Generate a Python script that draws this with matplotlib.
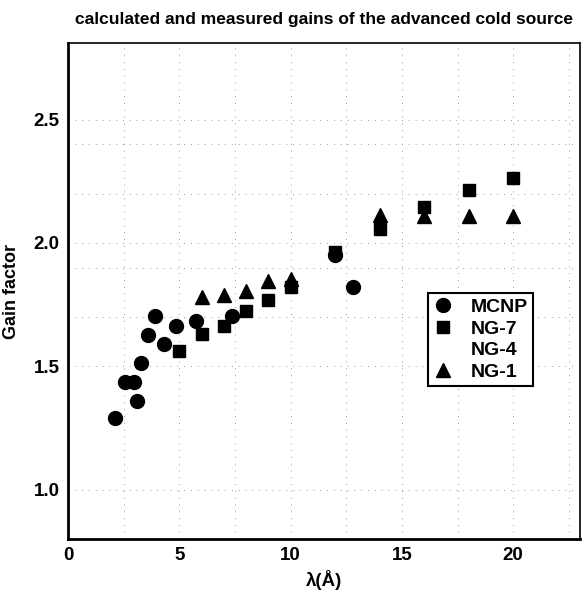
import numpy as np
import matplotlib.pyplot as plt

plt.rcParams['font.family'] = ['Liberation Sans', 'DejaVu Sans']
plt.rcParams['font.weight'] = 'bold'

# MCNP calculation
mcnp_x = [2.1, 2.55, 2.95, 3.1, 3.3, 3.6, 3.9, 4.3, 4.85, 5.75, 7.35, 12.0, 12.8]
mcnp_y = [1.29, 1.435, 1.435, 1.36, 1.515, 1.625, 1.705, 1.59, 1.665, 1.685, 1.705, 1.95, 1.82]

# measured
ng7_x = [5, 6, 7, 8, 9, 10, 12, 14, 16, 18, 20]
ng7_y = [1.56, 1.63, 1.665, 1.725, 1.77, 1.82, 1.965, 2.055, 2.145, 2.215, 2.265]

ng4_x = []
ng4_y = []

ng1_x = [6, 7, 8, 9, 10, 14, 16, 18, 20]
ng1_y = [1.78, 1.79, 1.805, 1.845, 1.855, 2.115, 2.11, 2.11, 2.11]

fig = plt.figure(figsize=(5.85, 5.91), dpi=100)
ax = fig.add_axes([0.1162, 0.088, 0.8753, 0.8392])

ax.plot(mcnp_x, mcnp_y, 'o', color='black', markersize=10, label='MCNP')
ax.plot(ng7_x, ng7_y, 's', color='black', markersize=8.5, label='NG-7')
ax.plot(ng4_x, ng4_y, linestyle='none', marker='none', label='NG-4')
ax.plot(ng1_x, ng1_y, '^', color='black', markersize=10, label='NG-1')

ax.set_xlim(0, 23)
ax.set_ylim(0.8, 2.81)
ax.set_xticks([0, 5, 10, 15, 20])
ax.set_yticks([1.0, 1.5, 2.0, 2.5])
ax.set_yticklabels(['1.0', '1.5', '2.0', '2.5'])
ax.set_xticks(np.arange(2.5, 23, 2.5), minor=True)
ax.set_yticks([1.0, 1.5, 1.7, 1.9, 2.0, 2.2, 2.4], minor=True)
ax.tick_params(which='both', length=0, labelsize=13.5, pad=6)
ax.grid(which='both', color='0.6', linestyle=(0, (1, 6)), linewidth=0.7)
ax.set_axisbelow(True)

for side in ['left', 'bottom']:
    ax.spines[side].set_linewidth(2)
for side in ['top', 'right']:
    ax.spines[side].set_linewidth(1.2)

ax.set_xlabel('λ(Å)', fontsize=13.5, fontweight='bold', labelpad=4)
ax.set_ylabel('Gain factor', fontsize=13, fontweight='bold', labelpad=10)
ax.set_title('calculated and measured gains of the advanced cold source',
             fontsize=12.5, fontweight='bold', pad=14)

leg = ax.legend(loc='upper left', bbox_to_anchor=(0.7025, 0.4966), fontsize=14,
                frameon=True, fancybox=False, edgecolor='black', framealpha=1,
                borderaxespad=0, borderpad=0.3, labelspacing=0.2,
                handlelength=1.0, handletextpad=0.9)
leg.get_frame().set_linewidth(1.5)

fig.savefig('out.png', dpi=100)
